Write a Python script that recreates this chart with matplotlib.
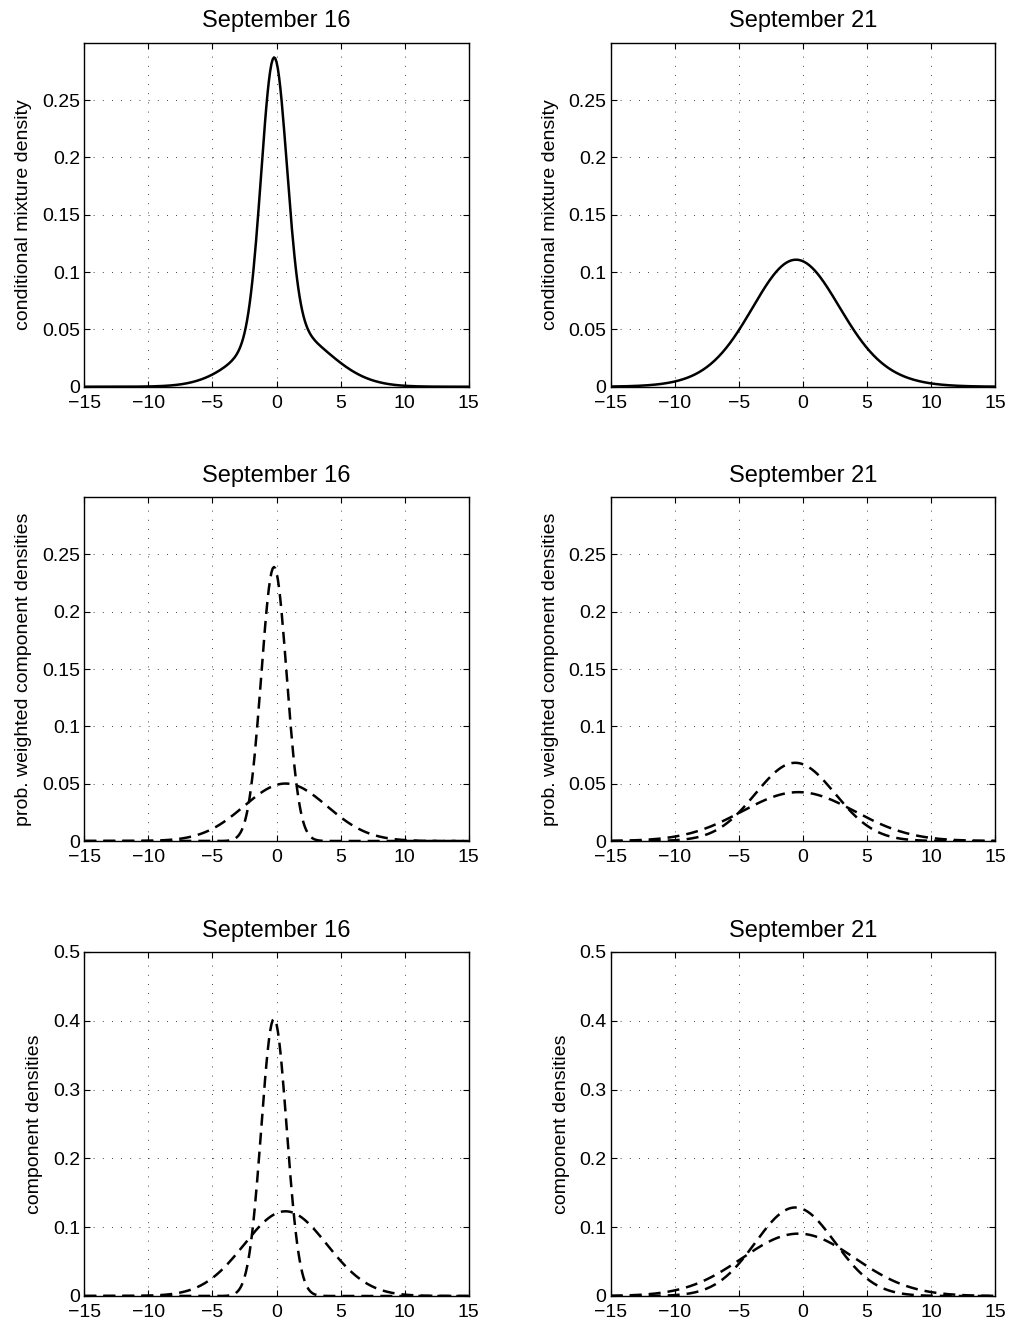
import numpy as np
import matplotlib
matplotlib.use("Agg")
import matplotlib.pyplot as plt
from matplotlib.ticker import FuncFormatter

# ------------------------------------------------------------
# Two-component normal mixture, two days
# (parameters)
# ------------------------------------------------------------
days = ["September 16", "September 21"]
weights = [[0.593, 0.407], [0.53, 0.47]]
means = [[-0.2, 0.7], [-0.6, -0.35]]
sigmas = [[0.99, 3.24], [3.1, 4.4]]

x_range = (-15, 15)
x_ticks = [-15, -10, -5, 0, 5, 10, 15]
row_ylims = [0.3, 0.3, 0.5]
row_yticks = [
    [0, 0.05, 0.1, 0.15, 0.2, 0.25],
    [0, 0.05, 0.1, 0.15, 0.2, 0.25],
    [0, 0.1, 0.2, 0.3, 0.4, 0.5],
]
row_ylabels = [
    "conditional mixture density",
    "prob. weighted component densities",
    "component densities",
]

plt.rcParams["font.family"] = ["Liberation Sans", "DejaVu Sans"]


def normpdf(x, mu, s):
    return np.exp(-0.5 * ((x - mu) / s) ** 2) / (s * np.sqrt(2 * np.pi))


def fmt(v, _pos):
    return ("%g" % v).replace("-", "\u2212")


x = np.linspace(x_range[0], x_range[1], 301)

fig = plt.figure(figsize=(10.10, 13.26), dpi=100)

col_left = [84.3 / 1010, 610.7 / 1010]
col_width = 384.5 / 1010
row_bottom = [1 - 386.7 / 1326, 1 - 841.0 / 1326, 1 - 1296.0 / 1326]
row_height = 344.0 / 1326

solid = dict(color="black", lw=1.8)
dashed = dict(color="black", lw=1.8, linestyle=(0, (4.8, 2.8)))

for r in range(3):
    for c in range(2):
        ax = fig.add_axes([col_left[c], row_bottom[r], col_width, row_height])
        w, m, s = weights[c], means[c], sigmas[c]
        comps = [normpdf(x, m[k], s[k]) for k in range(2)]

        if r == 0:
            ax.plot(x, w[0] * comps[0] + w[1] * comps[1], **solid)
        elif r == 1:
            for k in range(2):
                ax.plot(x, w[k] * comps[k], **dashed)
        else:
            for k in range(2):
                ax.plot(x, comps[k], **dashed)

        ax.set_xlim(*x_range)
        ax.set_ylim(0, row_ylims[r])
        ax.set_xticks(x_ticks)
        ax.set_yticks(row_yticks[r])
        ax.xaxis.set_major_formatter(FuncFormatter(fmt))
        ax.yaxis.set_major_formatter(FuncFormatter(fmt))
        ax.tick_params(direction="in", length=4, width=0.8, labelsize=14,
                       top=True, right=True)
        ax.tick_params(axis="x", pad=6)
        ax.tick_params(axis="y", pad=3)
        ax.grid(True, color="black", lw=0.6, linestyle=(0, (1, 10)))
        for sp in ax.spines.values():
            sp.set_linewidth(1.0)
        ax.set_title(days[c], fontsize=17, pad=11)
        ax.set_ylabel(row_ylabels[r], fontsize=14, labelpad=7)

fig.savefig("out.png", dpi=100, facecolor="white")
